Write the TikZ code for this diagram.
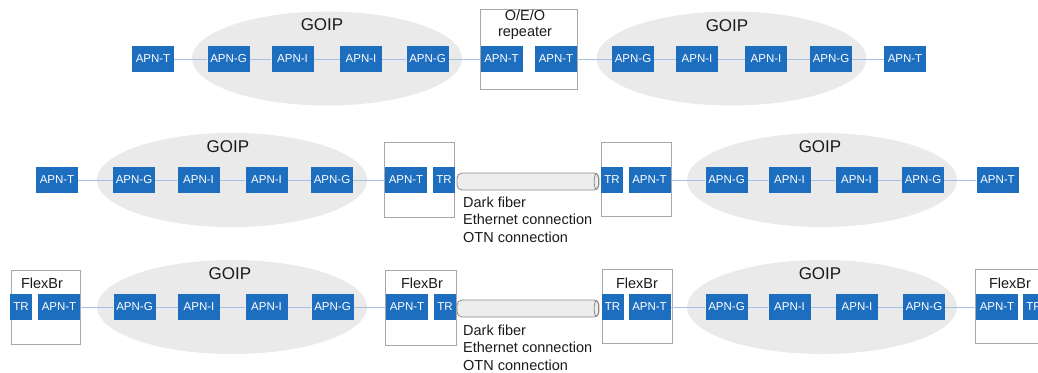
\documentclass[tikz,border=0pt]{standalone}
\usepackage{fontspec}
\setmainfont{Liberation Sans}
\usetikzlibrary{shapes.geometric}

\definecolor{apnblue}{HTML}{1E6EC0}
\definecolor{goipgray}{HTML}{EAEAEA}
\definecolor{linkblue}{HTML}{A3C1E4}
\definecolor{framegray}{HTML}{A8A8A8}
\definecolor{pipefill}{HTML}{EDEDED}
\definecolor{pipeedge}{HTML}{8A8A8A}
\definecolor{txt}{HTML}{1A1A1A}

\tikzset{
  goip/.style={ellipse, fill=goipgray, inner sep=0pt, minimum width=270pt, minimum height=94pt},
  frame/.style={draw=framegray, line width=0.8pt, fill=white, inner sep=0pt},
  apn/.style={fill=apnblue, text=white, font=\fontsize{11.5}{11.5}\selectfont,
              minimum width=42pt, minimum height=26pt, inner sep=0pt},
  trbox/.style={apn, minimum width=22pt},
  link/.style={draw=linkblue, line width=0.9pt},
  cloudlabel/.style={font=\fontsize{17}{17}\selectfont, text=txt, inner sep=0pt},
  boxlabel/.style={font=\fontsize{14.5}{16}\selectfont, text=txt, inner sep=0pt},
  pipe/.style={draw=pipeedge, fill=pipefill, rounded corners=5pt, line width=0.8pt,
               minimum width=142pt, minimum height=17pt, inner sep=0pt},
  note/.style={font=\fontsize{14.5}{17.5}\selectfont, text=txt, anchor=base west, inner sep=0pt}
}

\begin{document}
\begin{tikzpicture}[x=1pt,y=-1pt]
\useasboundingbox (0,0) rectangle (1038,372);
\clip (0,0) rectangle (1038,372);

% ---------- row 1: O/E/O repeater ----------
\node[goip] (g1a) at (327,58.5) {};
\node[goip] (g1b) at (731.5,58.5) {};
\node[cloudlabel] (l1a) at (322,25) {GOIP};
\node[cloudlabel] (l1b) at (727,26) {GOIP};
\node[frame, minimum width=97pt, minimum height=80pt] (rep) at (528.5,49) {};
\node[boxlabel, align=center] (repl) at (525,25) {O/E/O\\repeater};

\node[apn] (a1) at (153,59) {APN-T};
\node[apn] (b1) at (228.5,59) {APN-G};
\node[apn] (c1) at (292.5,59) {APN-I};
\node[apn] (d1) at (361,59) {APN-I};
\node[apn] (e1) at (427.5,59) {APN-G};
\node[apn] (f1) at (501.5,59) {APN-T};
\node[apn] (h1) at (556,59) {APN-T};
\node[apn] (i1) at (633,59) {APN-G};
\node[apn] (j1) at (697,59) {APN-I};
\node[apn] (k1) at (766,59) {APN-I};
\node[apn] (m1) at (831,59) {APN-G};
\node[apn] (n1) at (905,59) {APN-T};

\draw[link] (a1) -- (b1) -- (c1) -- (d1) -- (e1) -- (f1);
\draw[link] (h1) -- (i1) -- (j1) -- (k1) -- (m1) -- (n1);

% ---------- row 2: TR over dark fiber ----------
\node[goip] (g2a) at (232,180) {};
\node[goip] (g2b) at (822,180) {};
\node[cloudlabel] (l2a) at (228,147) {GOIP};
\node[cloudlabel] (l2b) at (820,147) {GOIP};
\node[frame, minimum width=70pt, minimum height=75pt] (fr2a) at (419,179.5) {};
\node[frame, minimum width=70pt, minimum height=74pt] (fr2b) at (636,179) {};

\node[apn] (a2) at (57,180) {APN-T};
\node[apn] (b2) at (134,180) {APN-G};
\node[apn] (c2) at (198.5,180) {APN-I};
\node[apn] (d2) at (266.5,180) {APN-I};
\node[apn] (e2) at (332,180) {APN-G};
\node[apn] (f2) at (406,180) {APN-T};
\node[trbox] (t2a) at (444,180) {TR};
\node[pipe] (p2) at (528,181.5) {};
\draw[pipeedge, line width=0.8pt] ([xshift=-3pt]p2.east) ellipse [x radius=2.2pt, y radius=8pt];
\node[trbox] (t2b) at (612,180) {TR};
\node[apn] (h2) at (649.5,180) {APN-T};
\node[apn] (i2) at (726.5,180) {APN-G};
\node[apn] (j2) at (789.5,180) {APN-I};
\node[apn] (k2) at (856.5,180) {APN-I};
\node[apn] (m2) at (923,180) {APN-G};
\node[apn] (n2) at (997.5,180) {APN-T};

\draw[link] (a2) -- (b2) -- (c2) -- (d2) -- (e2) -- (f2);
\draw[link] (h2) -- (i2) -- (j2) -- (k2) -- (m2) -- (n2);

\node[note] (n2a) at (463,207) {Dark fiber};
\node[note] (n2b) at (463,224) {Ethernet connection};
\node[note] (n2c) at (463,242) {OTN connection};

% ---------- row 3: FlexBr ----------
\node[goip] (g3a) at (232,307) {};
\node[goip] (g3b) at (822,307) {};
\node[cloudlabel] (l3a) at (230,274) {GOIP};
\node[cloudlabel] (l3b) at (820,274) {GOIP};
\node[frame, minimum width=69pt, minimum height=74pt] (fr3a) at (45.5,307) {};
\node[frame, minimum width=71pt, minimum height=75pt] (fr3b) at (420.5,307.5) {};
\node[frame, minimum width=70pt, minimum height=74pt] (fr3c) at (637,306) {};
\node[frame, minimum width=70pt, minimum height=74pt] (fr3d) at (1010,306) {};
\node[boxlabel] (fb1) at (42,283) {FlexBr};
\node[boxlabel] (fb2) at (422,283) {FlexBr};
\node[boxlabel] (fb3) at (637,283) {FlexBr};
\node[boxlabel] (fb4) at (1010,283) {FlexBr};

\node[trbox] (t3a) at (21,307) {TR};
\node[apn] (a3) at (59,307) {APN-T};
\node[apn] (b3) at (134.5,307) {APN-G};
\node[apn] (c3) at (199,307) {APN-I};
\node[apn] (d3) at (266.5,307) {APN-I};
\node[apn] (e3) at (332.5,307) {APN-G};
\node[apn] (f3) at (407,307) {APN-T};
\node[trbox] (t3b) at (445,307) {TR};
\node[pipe] (p3) at (528,308.5) {};
\draw[pipeedge, line width=0.8pt] ([xshift=-3pt]p3.east) ellipse [x radius=2.2pt, y radius=8pt];
\node[trbox] (t3c) at (612.5,307) {TR};
\node[apn] (h3) at (649.5,307) {APN-T};
\node[apn] (i3) at (726.5,307) {APN-G};
\node[apn] (j3) at (789.5,307) {APN-I};
\node[apn] (k3) at (857,307) {APN-I};
\node[apn] (m3) at (924,307) {APN-G};
\node[apn] (n3) at (997,307) {APN-T};
% the last TR runs past the right edge of the sheet
\node[trbox] (t3d) at (1034,307) {TR};

\draw[link] (a3) -- (b3) -- (c3) -- (d3) -- (e3) -- (f3);
\draw[link] (h3) -- (i3) -- (j3) -- (k3) -- (m3) -- (n3);

\node[note] (n3a) at (463,335) {Dark fiber};
\node[note] (n3b) at (463,352) {Ethernet connection};
\node[note] (n3c) at (463,370) {OTN connection};
\end{tikzpicture}
\end{document}
